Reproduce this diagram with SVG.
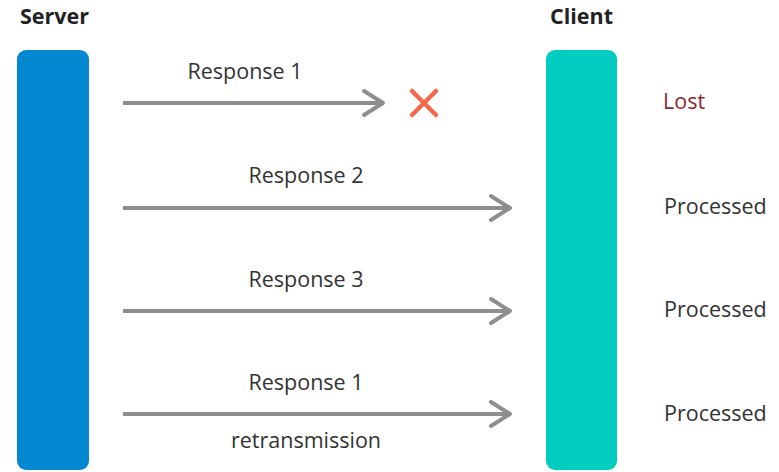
<svg xmlns="http://www.w3.org/2000/svg" width="779" height="472" viewBox="0 0 779 472">
<style>
.t{font-family:"Open Sans","Noto Sans","Liberation Sans",sans-serif;font-size:21.5px;fill:#333}
.h{font-family:"Open Sans","Noto Sans","Liberation Sans",sans-serif;font-size:21.5px;font-weight:bold;fill:#222}
.ln{stroke:#8e8e8e;stroke-width:4;fill:none}
.hd{stroke:#8e8e8e;stroke-width:4;fill:none;stroke-linecap:round;stroke-linejoin:round}
</style>
<rect width="779" height="472" fill="#fff"/>
<g id="server">
<text class="h" x="20" y="24">Server</text>
<rect x="17" y="50" width="72" height="420" rx="9" fill="#0288d1"/>
</g>
<g id="client">
<text class="h" x="550" y="24">Client</text>
<rect x="546" y="50" width="71" height="420" rx="9" fill="#00ccc0"/>
</g>
<g id="connectors">
<line class="ln" x1="123" y1="103" x2="382" y2="103"/>
<polyline class="hd" points="364,91 383,103 364,115"/>
<line class="ln" x1="123" y1="208" x2="509" y2="208"/>
<polyline class="hd" points="491,196 510,208 491,220"/>
<line class="ln" x1="123" y1="311" x2="509" y2="311"/>
<polyline class="hd" points="491,299 510,311 491,323"/>
<line class="ln" x1="123" y1="414" x2="509" y2="414"/>
<polyline class="hd" points="491,402 510,414 491,426"/>
</g>
<g id="lost-mark">
<path d="M412,91 L436,115 M436,91 L412,115" stroke="#f26a4b" stroke-width="4.5" stroke-linecap="round"/>
</g>
<g id="labels">
<text class="t" x="245" y="79" text-anchor="middle">Response 1</text>
<text class="t" x="306" y="183" text-anchor="middle">Response 2</text>
<text class="t" x="306" y="287" text-anchor="middle">Response 3</text>
<text class="t" x="306" y="390" text-anchor="middle">Response 1</text>
<text class="t" x="306" y="448" text-anchor="middle">retransmission</text>
<text class="t" x="663" y="109" style="fill:#8b2a33">Lost</text>
<text class="t" x="664" y="214">Processed</text>
<text class="t" x="664" y="317">Processed</text>
<text class="t" x="664" y="421">Processed</text>
</g>
</svg>
